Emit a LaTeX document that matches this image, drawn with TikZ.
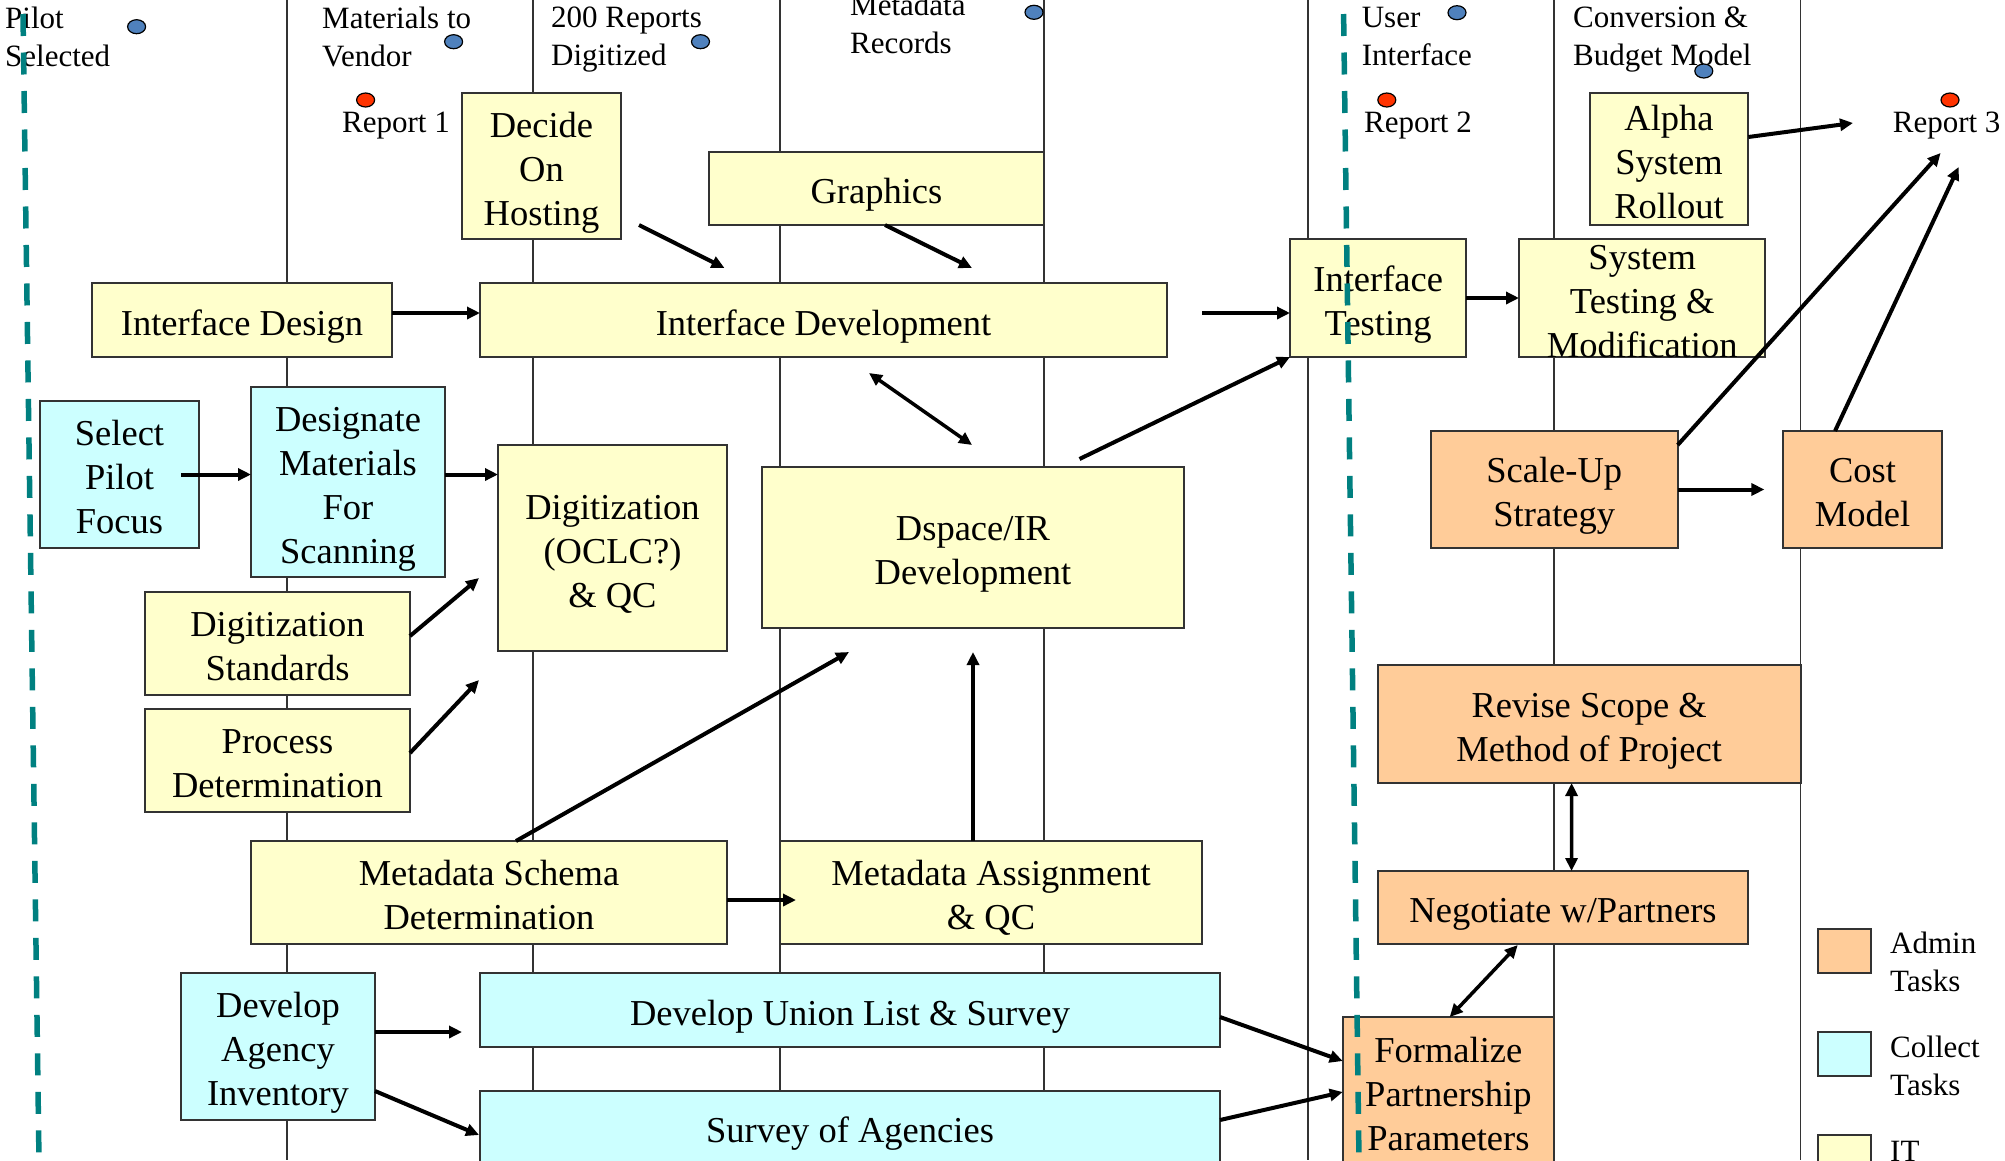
\documentclass[tikz,border=0pt]{standalone}
\usepackage{fontspec}
\setmainfont{Liberation Serif}
\usetikzlibrary{arrows.meta,calc,shapes.geometric}
\definecolor{itfill}{HTML}{FFFFCC}
\definecolor{colfill}{HTML}{CCFFFF}
\definecolor{admfill}{HTML}{FFCC99}
\definecolor{boxline}{HTML}{333333}
\definecolor{dotblue}{HTML}{4F81BD}
\definecolor{dotred}{HTML}{FF3300}
\definecolor{tealdash}{HTML}{008080}
\begin{document}
\begin{tikzpicture}[x=1pt,y=-1pt,
  boxbase/.style={draw=boxline,line width=2pt,inner sep=0pt,outer sep=0pt,align=center,
    font=\fontsize{36.5}{44}\selectfont,execute at end node={\rule[-8pt]{0pt}{8pt}}},
  taskbox/.style={boxbase,execute at begin node={\rule{0pt}{#1}}},
  taskbox/.default=38pt,
  flatbottom/.style={execute at end node={},text height=#1,text depth=0pt},
  keybox/.style={draw=boxline,line width=2pt,inner sep=0pt,outer sep=0pt,minimum width=52.6pt,minimum height=44pt},
  lbl/.style={inner sep=0pt,align=left,font=\fontsize{31}{38}\selectfont},
  dot/.style={ellipse,draw=black,line width=1.2pt,minimum width=18pt,minimum height=14pt,inner sep=0pt},
  vline/.style={draw=boxline,line width=1.5pt},
  arr/.style={line width=4pt,-{Triangle[length=13pt,width=12pt]}},
  darr/.style={line width=3.5pt,{Triangle[length=13pt,width=12pt]}-{Triangle[length=13pt,width=12pt]}},
  phase/.style={draw=tealdash,line width=5.5pt,dash pattern=on 22pt off 16.5pt}]
\useasboundingbox (0,0) rectangle (2005,1160);
\clip (0,0) rectangle (2005,1160);
\fill[white] (0,0) rectangle (2005,1160);

% swim-lane lines
\foreach \x in {287,533,780,1044,1308,1554,1800.5} \draw[vline] (\x,0) -- (\x,1160);

% task boxes (taskbox value = (lines-1)*44pt + 38pt)
\node[taskbox=126pt,fill=itfill,minimum width=159pt,minimum height=146pt] (decide) at (541.5,166) {Decide\\On\\Hosting};
\node[taskbox,fill=itfill,minimum width=335pt,minimum height=73pt] (graphics) at (876.5,188.5) {Graphics};
\node[taskbox,fill=itfill,minimum width=300pt,minimum height=74pt] (idesign) at (242,320) {Interface Design};
\node[taskbox,fill=itfill,minimum width=687pt,minimum height=74pt] (idev) at (823.5,320) {Interface Development};
\node[taskbox=82pt,fill=itfill,minimum width=176.4pt,minimum height=118pt] (itest) at (1378.2,298) {Interface\\Testing};
\node[taskbox=118pt,flatbottom=118pt,fill=itfill,minimum width=246.4pt,minimum height=118pt] (systest) at (1642.2,298) {System\\Testing \&\\Modification};
\node[taskbox=118pt,flatbottom=118pt,fill=itfill,minimum width=158.7pt,minimum height=132pt] (alpha) at (1669,159) {Alpha\\System\\Rollout};
\node[taskbox=126pt,fill=colfill,minimum width=159pt,minimum height=147pt] (select) at (119.5,474.5) {Select\\Pilot\\Focus};
\node[taskbox=170pt,fill=colfill,minimum width=194pt,minimum height=190pt] (designate) at (348,482) {Designate\\Materials\\For\\Scanning};
\node[taskbox=126pt,fill=itfill,minimum width=229pt,minimum height=206pt] (digit) at (612.5,548) {Digitization\\(OCLC?)\\\& QC};
\node[taskbox=82pt,fill=itfill,minimum width=265pt,minimum height=103pt] (dstd) at (277.5,643.5) {Digitization\\Standards};
\node[taskbox=82pt,fill=itfill,minimum width=265pt,minimum height=103pt] (proc) at (277.5,760.5) {Process\\Determination};
\node[taskbox=82pt,fill=itfill,minimum width=422pt,minimum height=161pt] (dspace) at (973,547.5) {Dspace/IR\\Development};
\node[taskbox=82pt,fill=itfill,minimum width=476pt,minimum height=103pt] (mschema) at (489,892.5) {Metadata Schema\\Determination};
\node[taskbox=82pt,fill=itfill,minimum width=422pt,minimum height=103pt] (massign) at (991,892.5) {Metadata Assignment\\\& QC};
\node[taskbox=126pt,fill=colfill,minimum width=194pt,minimum height=147pt] (agency) at (278,1046.5) {Develop\\Agency\\Inventory};
\node[taskbox,fill=colfill,minimum width=740pt,minimum height=74pt] (union) at (850,1010) {Develop Union List \& Survey};
\node[taskbox,fill=colfill,minimum width=740pt,minimum height=73pt] (survey) at (850,1127.5) {Survey of Agencies};
\node[taskbox=82pt,fill=admfill,minimum width=246.9pt,minimum height=117pt] (scaleup) at (1554.25,489.5) {Scale-Up\\Strategy};
\node[taskbox=82pt,fill=admfill,minimum width=158.2pt,minimum height=117pt] (cost) at (1862.5,489.5) {Cost\\Model};
\node[taskbox=82pt,fill=admfill,minimum width=422.7pt,minimum height=118pt] (revise) at (1589.15,724) {Revise Scope \&\\Method of Project};
\node[taskbox,fill=admfill,minimum width=370.5pt,minimum height=73pt] (negot) at (1563,907.5) {Negotiate w/Partners};
\node[taskbox=126pt,fill=admfill,minimum width=211.3pt,minimum height=149pt] (formal) at (1448.35,1091.5) {Formalize\\Partnership\\Parameters};

% legend
\node[keybox,fill=admfill] (adminkey) at (1844.7,951) {};
\node[keybox,fill=colfill] (collectkey) at (1844.7,1054) {};
\node[keybox,fill=itfill] (itkey) at (1844.7,1157) {};
\node[lbl,anchor=north west] (adminlbl) at (1890,931.8) {Admin\\Tasks};
\node[lbl,anchor=north west] (collectlbl) at (1890,1035.8) {Collect\\Tasks};
\node[lbl,anchor=base west] (itlbl) at (1890,1161) {IT};

% milestone labels
\node[lbl,anchor=north west] (pilotlbl) at (5,6.8) {Pilot\\Selected};
\node[lbl,anchor=north west] (matlbl) at (322,6.8) {Materials to\\Vendor};
\node[lbl,anchor=north west] (digilbl) at (551,6.8) {200 Reports\\Digitized};
\node[lbl,anchor=north west] (metalbl) at (850,-6.2) {Metadata\\Records};
\node[lbl,anchor=north west] (userlbl) at (1361.6,6.8) {User\\Interface};
\node[lbl,anchor=north west] (convlbl) at (1573,6.8) {Conversion \&\\Budget Model};
\node[lbl,anchor=base west] (rep1) at (342,132) {Report 1};
\node[lbl,anchor=base west] (rep2) at (1364,132) {Report 2};
\node[lbl,anchor=base west] (rep3) at (1892.6,132) {Report 3};

% milestone dots
\node[dot,fill=dotblue] (pilotdot) at (136.6,26.7) {};
\node[dot,fill=dotblue] (matdot) at (453.6,41.7) {};
\node[dot,fill=dotblue] (digidot) at (700.5,41.7) {};
\node[dot,fill=dotblue] (metadot) at (1034,12.3) {};
\node[dot,fill=dotblue] (userdot) at (1457,12.7) {};
\node[dot,fill=dotblue] (convdot) at (1703.8,71) {};
\node[dot,fill=dotred] (rep1dot) at (365.6,100) {};
\node[dot,fill=dotred] (rep2dot) at (1386.8,100) {};
\node[dot,fill=dotred] (rep3dot) at (1950,100) {};

% connectors
\draw[arr] ($(decide.south east)+(18,-14)$) -- ($(idev.north west)+(244.5,-15)$);
\draw[arr] ($(graphics.south west)+(176,0)$) -- ($(idev.north west)+(492,-15)$);
\draw[arr] ($(idesign.north east)+(0,30)$) -- ($(idev.north west)+(0,30)$);
\draw[arr] ($(idev.north east)+(35,30)$) -- ($(itest.north west)+(0,74)$);
\draw[arr] (itest.east) -- (systest.west);
\draw[arr] ($(alpha.north east)+(0,44)$) -- ($(rep3.base west)+(-39.6,-9)$);
\draw[arr] ($(scaleup.north east)+(0,14)$) -- ($(rep3.base west)+(48,21)$);
\draw[arr] ($(cost.north west)+(51.6,0)$) -- ($(rep3.base west)+(66,35)$);
\draw[arr] (scaleup.east) -- ($(cost.west)+(-19,0)$);
\draw[darr] ($(idev.south west)+(389,16)$) -- ($(dspace.north west)+(210,-22)$);
\draw[arr] ($(dspace.north west)+(317.5,-8)$) -- (itest.south west);
\draw[arr] ($(select.east)+(-18,0)$) -- ($(designate.north west)+(0,87.5)$);
\draw[arr] ($(designate.north east)+(0,87.5)$) -- ($(digit.north west)+(0,29.5)$);
\draw[arr] ($(dstd.north east)+(0,44)$) -- ($(digit.north west)+(-19,133)$);
\draw[arr] ($(proc.north east)+(0,44)$) -- ($(digit.south west)+(-19,29)$);
\draw[arr] ($(mschema.north west)+(265,0)$) -- ($(dspace.south west)+(87,24)$);
\draw[arr] ($(massign.north west)+(193,0)$) -- ($(dspace.south west)+(211,24)$);
\draw[arr] ($(mschema.north east)+(0,59)$) -- ($(massign.north west)+(16,59)$);
\draw[arr] ($(agency.north east)+(0,59)$) -- ($(union.north west)+(-18,59)$);
\draw[arr] ($(agency.north east)+(0,118)$) -- ($(survey.north west)+(-1,44)$);
\draw[arr] ($(union.north east)+(0,44)$) -- ($(formal.north west)+(0,44)$);
\draw[arr] ($(survey.north east)+(0,29)$) -- ($(formal.north west)+(0,75)$);
\draw[darr] ($(revise.south west)+(193.8,0)$) -- ($(negot.north west)+(193.8,0)$);
\draw[darr] ($(negot.south west)+(140,1)$) -- ($(formal.north west)+(107,0)$);

% phase boundaries
\draw[phase] (23,14) -- (39,1160);
\draw[phase] (1343.6,14) -- (1359,1160);
\end{tikzpicture}
\end{document}
